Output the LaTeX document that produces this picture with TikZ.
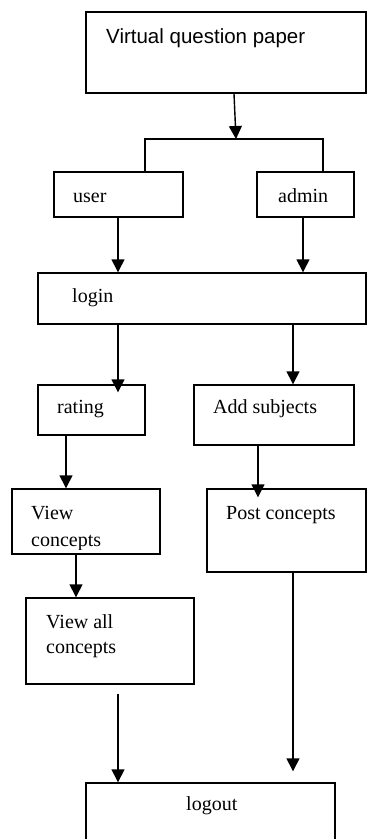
\documentclass[tikz,border=0pt]{standalone}
\usepackage{fontspec}
\setmainfont{Liberation Serif}
\newfontfamily\arialf{Liberation Sans}
\usetikzlibrary{arrows.meta}
\begin{document}
\begin{tikzpicture}[x=1pt,y=-1pt,
  box/.style={draw, line width=1.4pt, rectangle, inner sep=0pt},
  bx/.style n args={2}{box, minimum width=#1pt, minimum height=#2pt},
  lbl/.style={anchor=base west, inner sep=0pt, font=\fontsize{20}{24}\selectfont},
  conn/.style={line width=1.4pt},
  arr/.style={conn, -{Triangle[width=13pt,length=13pt]}}]
\useasboundingbox (0,0) rectangle (367,839);
% boxes
\node[bx={280}{81}] (vqp) at (226,52.5) {};
\node[bx={129}{45}] (user) at (118.5,194.5) {};
\node[bx={97}{45}] (admin) at (305.5,194.5) {};
\node[bx={328}{51}] (login) at (202,298.5) {};
\node[bx={107}{50}] (rating) at (91.5,410) {};
\node[bx={160}{60}] (addsub) at (274,415) {};
\node[bx={148}{65}] (viewc) at (86,521.5) {};
\node[bx={159}{83}] (post) at (286.5,530.5) {};
\node[bx={168}{86}] (viewall) at (110,641) {};
\node[bx={249}{87}] (logout) at (210.5,826.5) {};
% texts
\node[lbl, font=\arialf\fontsize{20.5}{24}\selectfont] (t-vqp) at (106,43) {Virtual question paper};
\node[lbl] (t-user) at (73,202) {user};
\node[lbl] (t-admin) at (278,202) {admin};
\node[lbl] (t-login) at (72,302) {login};
\node[lbl] (t-rating) at (57,413) {rating};
\node[lbl] (t-add) at (213,413) {Add subjects};
\node[lbl] (t-view) at (31,519) {View};
\begin{scope}
\clip (13,490) rectangle (159,549.5);
\node[lbl] (t-viewc) at (31,546) {concepts};
\end{scope}
\node[lbl] (t-post) at (226,519) {Post concepts};
\node[lbl] (t-va1) at (46,628) {View all};
\node[lbl] (t-va2) at (46,653) {concepts};
\node[lbl] (t-logout) at (186,810) {logout};
% connectors
\coordinate (jn) at (236,139);
\coordinate (jl) at (145,139);
\coordinate (jr) at (323,139);
\coordinate (xa) at (118,0);
\coordinate (xb) at (293,0);
\coordinate (xc) at (66,0);
\coordinate (xd) at (258,0);
\coordinate (xe) at (76,0);
\draw[arr] ([xshift=8pt]vqp.south) -- (jn);
\draw[conn] (user.north -| jl) -- (jl) -- (jr) -- (admin.north -| jr);
\draw[arr] (user.south -| xa) -- (login.north -| xa);
\draw[arr] ([xshift=-2.5pt]admin.south) -- ([xshift=-2.5pt]admin.south |- login.north);
\draw[arr] (login.south -| xa) -- ([yshift=-8pt]rating.north -| xa);
\draw[arr] (login.south -| xb) -- (addsub.north -| xb);
\draw[arr] (rating.south -| xc) -- (viewc.north -| xc);
\draw[arr] (addsub.south -| xd) -- ([yshift=-9pt]post.north -| xd);
\draw[arr] (viewc.south -| xe) -- (viewall.north -| xe);
\draw[arr] ([yshift=-9pt]viewall.south -| xa) -- (logout.north -| xa);
\draw[arr] (post.south -| xb) -- ([yshift=11pt]logout.north -| xb);
\end{tikzpicture}
\end{document}
